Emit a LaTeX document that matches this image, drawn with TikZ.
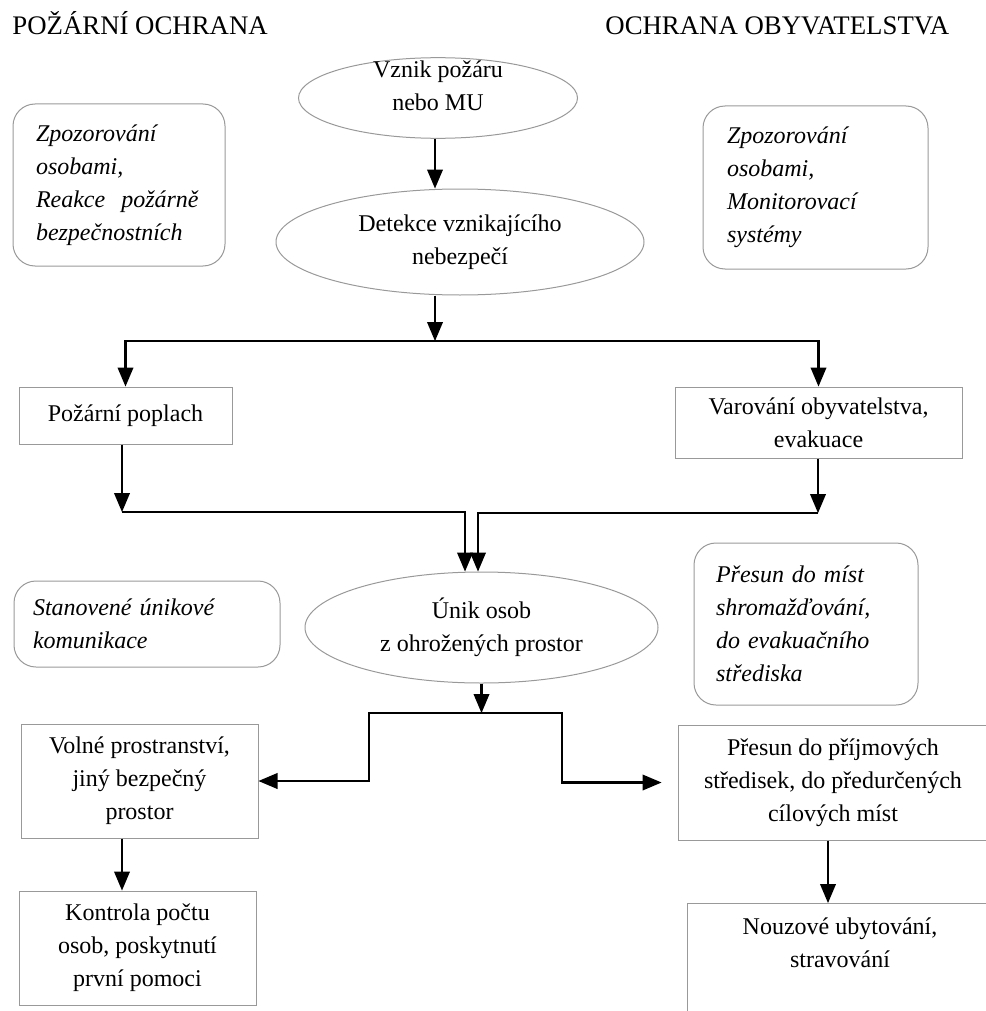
\documentclass[tikz,border=0pt]{standalone}
\usepackage{fontspec}
\setmainfont{Liberation Serif}
\usepackage{tikz}
\usetikzlibrary{arrows,shapes.geometric,positioning}

\begin{document}
\begin{tikzpicture}[x=0.5pt,y=-0.5pt,
  head/.style={anchor=base west,inner sep=0pt,font=\fontsize{13.4}{16}\selectfont},
  box/.style={draw=gray!80,line width=0.5pt,align=center,inner sep=0pt,font=\fontsize{12}{16.5}\selectfont},
  oval/.style={ellipse,draw=gray!80,line width=0.5pt,align=center,inner sep=0pt,font=\fontsize{12}{16.5}\selectfont},
  note/.style={draw=gray!80,line width=0.5pt,rounded corners=11pt,align=left,inner ysep=0pt,font=\fontsize{12}{16.5}\selectfont\itshape},
  arr/.style={line width=1.2pt,-triangle 45}]
\useasboundingbox (0,0) rectangle (985,1011);
%Ueberschriften
\node[head] (headPO) at (12,35) {POŽÁRNÍ OCHRANA};
\node[head] (headOO) at (605,35) {OCHRANA OBYVATELSTVA};
%Hauptablauf
\node[oval,minimum width=139.5pt,minimum height=39pt] (vznik) at (438,98) {\raisebox{0pt}[4.25pt][24.25pt]{\begin{tabular}[t]{@{}c@{}}Vznik požáru\\nebo MU\end{tabular}}};
\node[oval,minimum width=184pt,minimum height=53pt] (detekce) at (460,242) {Detekce vznikajícího\\nebezpečí};
\node[box,minimum width=106.5pt,minimum height=28.5pt] (poplach) at (125.5,415.5) {Požární poplach};
\node[box,minimum width=143.5pt,minimum height=35.5pt] (varovani) at (818.5,422.5) {Varování obyvatelstva,\\evakuace};
\node[oval,minimum width=176.5pt,minimum height=55.5pt] (unik) at (481.5,627.5) {Únik osob\\z ohrožených prostor};
\node[box,minimum width=118.5pt,minimum height=57pt] (volne) at (139.5,781) {Volné prostranství,\\jiný bezpečný\\prostor};
\node[box,minimum width=118.5pt,minimum height=57pt] (kontrola) at (137.5,948) {Kontrola počtu\\osob, poskytnutí\\první pomoci};
\node[box,minimum width=155pt,minimum height=57.5pt] (presun) at (833,782.5) {Přesun do příjmových\\středisek, do předurčených\\cílových míst};
\node[box,anchor=north,minimum width=153pt,inner ysep=7pt] (nouzove) at (840,903) {\parbox[t][62pt][t]{150pt}{\centering Nouzové ubytování,\\stravování}};
%Hinweise
\node[note,text width=83pt,inner xsep=11.5pt,minimum height=81pt] (notePO) at (119,185) {Zpozorování\\osobami,\\Reakce~~požárně\\bezpečnostních};
\node[note,text width=88.5pt,inner xsep=12pt,minimum height=81.5pt] (noteOO) at (815.5,187.5) {Zpozorování\\osobami,\\Monitorovací\\systémy};
\node[note,text width=114pt,inner xsep=9.5pt,minimum height=43pt] (noteCesty) at (147,624) {Stanovené únikové\\komunikace};
\node[note,text width=90pt,inner xsep=11pt,minimum height=81pt] (notePresun) at (806,624) {Přesun do míst\\shromažďování,\\do evakuačního\\střediska};
%Verbindungen
\coordinate (split1) at (435,341);
\coordinate (joinL) at (122,512);
\coordinate (joinR) at (818,513);
\coordinate (split2) at (481.5,713);
\coordinate (volneOut) at ([xshift=-8.75pt]volne.south);
\coordinate (presunOut) at ([xshift=-2.5pt]presun.south);
\draw[arr] (vznik.south -| split1) -- (detekce.north -| split1);
\draw[arr] (detekce.south -| split1) -- (split1);
\draw[arr] (split1) -| (poplach.north);
\draw[arr] (split1) -| (varovani.north);
\draw[arr] (poplach.south -| joinL) -- (joinL);
\draw[arr] (varovani.south -| joinR) -- (joinR);
\draw[arr] (joinL) -| ([xshift=-8.25pt]unik.north);
\draw[arr] (joinR) -| ([xshift=-1.75pt]unik.north);
\draw[arr] (unik.south) -- (split2);
\draw[arr] (split2) -- ++(-112.5,0) |- (volne.east);
\draw[arr,shorten >=8pt] (split2) -- ++(80.5,0) |- (presun.west);
\draw[arr] (volneOut) -- (volneOut |- kontrola.north);
\draw[arr] (presunOut) -- (presunOut |- nouzove.north);
\end{tikzpicture}
\end{document}
